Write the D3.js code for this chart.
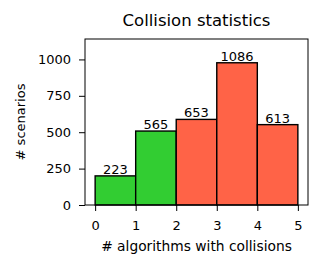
<!DOCTYPE html>
<html>
<head>
<meta charset="utf-8">
<script src="https://cdn.jsdelivr.net/npm/d3@7"></script>
<style>
  body { margin: 0; background: #fff; }
  text { font-family: "DejaVu Sans", sans-serif; fill: #000; }
</style>
</head>
<body>
<script>
'use strict';

// bin edges and heights
const binStarts = [0, 1, 2, 3, 4];
const barHeights = [200, 508, 588, 977, 552];
const barLabels = ['223', '565', '653', '1086', '613'];
const barColors = ['#32cd32', '#32cd32', '#ff6347', '#ff6347', '#ff6347'];
const xTicks = [0, 1, 2, 3, 4, 5];
const yTicks = [0, 250, 500, 750, 1000];

const msm = {
  width: 323,
  height: 269,
  left: 85,
  right: 308,
  top: 39,
  bottom: 205
};

let svg = d3.select('body').append('svg')
  .attr('width', msm.width)
  .attr('height', msm.height);

let xScale = d3.scaleLinear()
  .domain([-0.25, 5.25])
  .range([msm.left, msm.right]);

let yScale = d3.scaleLinear()
  .domain([0, 1140.3])
  .range([msm.bottom, msm.top]);

// bars
svg.selectAll('.bar')
  .data(binStarts)
  .enter()
  .append('rect')
    .attr('x', (d) => xScale(d))
    .attr('y', (d, i) => yScale(barHeights[i]))
    .attr('width', (d) => xScale(d + 1) - xScale(d))
    .attr('height', (d, i) => yScale(0) - yScale(barHeights[i]))
    .attr('fill', (d, i) => barColors[i])
    .attr('stroke', '#000')
    .attr('stroke-width', 1.4);

// bar labels
svg.selectAll('.lbl')
  .data(binStarts)
  .enter()
  .append('text')
    .attr('x', (d) => xScale(d + 0.5))
    .attr('y', (d, i) => yScale(barHeights[i]) - 2)
    .attr('text-anchor', 'middle')
    .style('font-size', '13px')
    .text((d, i) => barLabels[i]);

// axes
let xAxis = d3.axisBottom(xScale).tickValues(xTicks).tickFormat(d3.format('d')).tickSize(6).tickPadding(10);
let gx = svg.append('g')
  .attr('transform', 'translate(0,' + msm.bottom + ')')
  .call(xAxis);

let yAxis = d3.axisLeft(yScale).tickValues(yTicks).tickFormat(d3.format('d')).tickSize(6).tickPadding(8);
let gy = svg.append('g')
  .attr('transform', 'translate(' + msm.left + ',0)')
  .call(yAxis);

[gx, gy].forEach((g) => {
  g.select('.domain').remove();
  g.selectAll('text').style('font-size', '13px').style('font-family', '"DejaVu Sans", sans-serif');
  g.selectAll('line').attr('stroke', '#000').attr('stroke-width', 1);
});

// frame
svg.append('rect')
  .attr('x', msm.left)
  .attr('y', msm.top)
  .attr('width', msm.right - msm.left)
  .attr('height', msm.bottom - msm.top)
  .attr('fill', 'none')
  .attr('stroke', '#000')
  .attr('stroke-width', 1);

// title and axis labels
svg.append('text')
  .attr('x', (msm.left + msm.right) / 2)
  .attr('y', 26)
  .attr('text-anchor', 'middle')
  .style('font-size', '16.5px')
  .text('Collision statistics');

svg.append('text')
  .attr('x', (msm.left + msm.right) / 2)
  .attr('y', 251)
  .attr('text-anchor', 'middle')
  .style('font-size', '13.8px')
  .text('# algorithms with collisions');

svg.append('text')
  .attr('transform', 'translate(25,' + ((msm.top + msm.bottom) / 2) + ') rotate(-90)')
  .attr('text-anchor', 'middle')
  .style('font-size', '13px')
  .text('# scenarios');
</script>
</body>
</html>
